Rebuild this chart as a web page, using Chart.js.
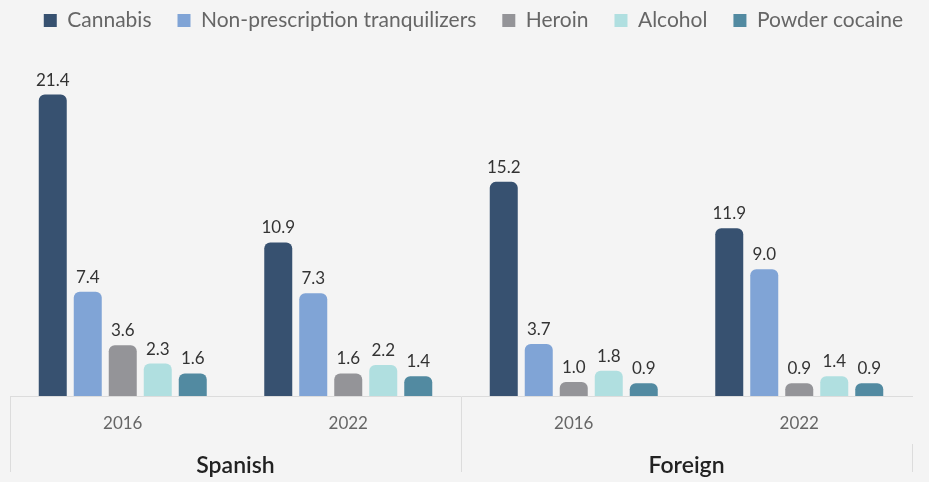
<!DOCTYPE html>
<html>
<head>
<meta charset="utf-8">
<script src="https://cdn.jsdelivr.net/npm/chart.js@4"></script>
<style>
  html, body { margin: 0; padding: 0; background: #f4f4f4; }
  #wrap { width: 929px; height: 482px; position: relative; }
</style>
</head>
<body>
<div id="wrap"><canvas id="drugChart"></canvas></div>
<script>
  // ==================== Data ====================
  const yearLabels = ['2016', '2022', '2016', '2022'];
  const groupLabels = ['Spanish', 'Foreign'];
  const substances = ['Cannabis', 'Non-prescription tranquilizers', 'Heroin', 'Alcohol', 'Powder cocaine'];
  const cannabis = [21.4, 10.9, 15.2, 11.9];
  const tranquilizers = [7.4, 7.3, 3.7, 9.0];
  const heroin = [3.6, 1.6, 1.0, 0.9];
  const alcohol = [2.3, 2.2, 1.8, 1.4];
  const cocaine = [1.6, 1.4, 0.9, 0.9];
  const colors = ['#375170', '#80a4d6', '#949498', '#b0dfe0', '#528aa1'];

  const FONT = 'Lato, "Open Sans", sans-serif';

  // ==================== Plugins ====================
  const valueLabels = {
    id: 'valueLabels',
    afterDatasetsDraw(chart) {
      const ctx = chart.ctx;
      ctx.save();
      ctx.font = '17px ' + FONT;
      ctx.fillStyle = '#333333';
      ctx.textAlign = 'center';
      ctx.textBaseline = 'bottom';
      chart.data.datasets.forEach((ds, i) => {
        const meta = chart.getDatasetMeta(i);
        meta.data.forEach((bar, j) => {
          ctx.fillText(ds.data[j].toFixed(1), bar.x, bar.y - 6);
        });
      });
      ctx.restore();
    }
  };

  // ==================== Chart ====================
  const seriesValues = [cannabis, tranquilizers, heroin, alcohol, cocaine];

  const datasets = substances.map((name, i) => ({
    label: name,
    data: seriesValues[i],
    backgroundColor: colors[i],
    borderRadius: 6,
    borderSkipped: 'bottom',
    categoryPercentage: 0.776,
    barPercentage: 0.8
  }));

  // invisible side axes only reserve margin, so the legend can use the full width
  const spacer = (w, pos) => ({
    position: pos,
    display: true,
    min: 0,
    max: 25.2,
    afterFit: (s) => { s.width = w; },
    grid: { display: false },
    border: { display: false },
    ticks: { display: false }
  });

  new Chart(document.getElementById('drugChart'), {
    type: 'bar',
    data: { labels: yearLabels, datasets: datasets },
    plugins: [valueLabels],
    options: {
      responsive: true,
      maintainAspectRatio: false,
      animation: false,
      layout: { padding: { top: -16, left: 0, right: 0, bottom: 0 } },
      plugins: {
        tooltip: { enabled: false },
        legend: {
          position: 'top',
          align: 'end',
          labels: {
            boxWidth: 13,
            boxHeight: 13,
            padding: 26,
            color: '#666666',
            font: { family: FONT, size: 21 }
          }
        }
      },
      scales: {
        x: {
          offset: true,
          afterFit: (s) => { s.height = 48; },
          grid: {
            offset: true,
            drawOnChartArea: false,
            drawTicks: true,
            tickLength: 48,
            color: (c) => (c.index % 2 === 0 ? '#dcdcdc' : 'rgba(0,0,0,0)')
          },
          border: { display: true, color: '#dcdcdc' },
          ticks: {
            padding: -30.2,
            color: '#666666',
            font: { family: FONT, size: 17 }
          }
        },
        x2: {
          type: 'category',
          position: 'bottom',
          labels: groupLabels,
          offset: true,
          weight: 1,
          afterFit: (s) => { s.height = 38; },
          grid: {
            offset: true,
            drawOnChartArea: false,
            drawTicks: true,
            tickLength: 28,
            color: '#dcdcdc'
          },
          border: { display: false },
          ticks: {
            padding: -20.2,
            color: '#222222',
            font: { family: FONT, size: 23, weight: '600' }
          }
        },
        y: spacer(10, 'left'),
        yRight: spacer(17, 'right')
      }
    }
  });
</script>
</body>
</html>
